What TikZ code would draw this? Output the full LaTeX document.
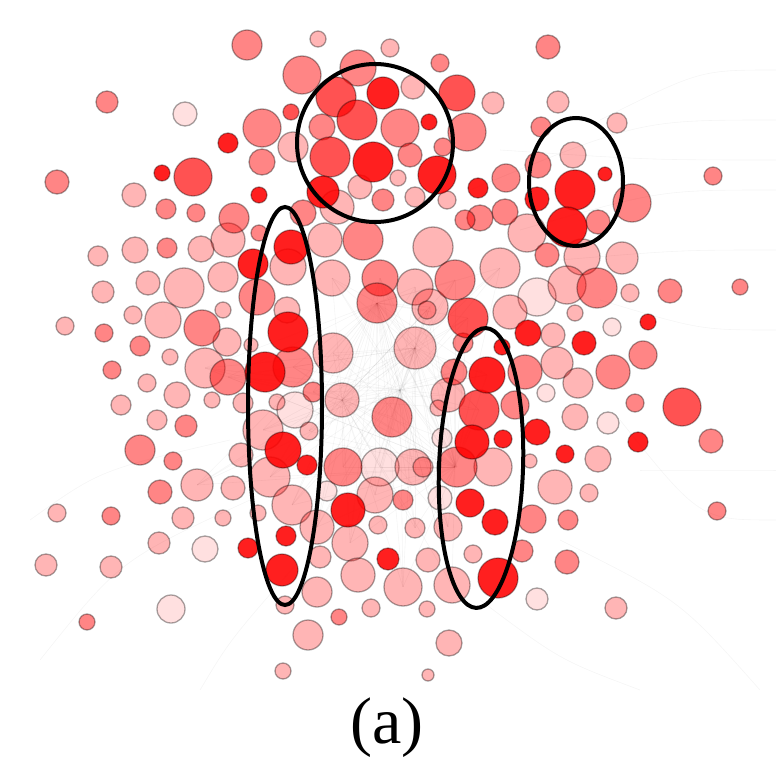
\documentclass[tikz,border=0pt]{standalone}
\usepackage{fontspec}
\setmainfont{Liberation Serif}
\begin{document}
\begin{tikzpicture}[x=1pt,y=-1pt,
  bub/.style={draw=black, draw opacity=0.35, line width=1.3pt},
  cS/.style={bub, fill=red, fill opacity=0.88},
  cMS/.style={bub, fill=red, fill opacity=0.68},
  cM/.style={bub, fill=red, fill opacity=0.48},
  cL/.style={bub, fill=red, fill opacity=0.29},
  cV/.style={bub, fill=red, fill opacity=0.12},
  edge/.style={draw=black, draw opacity=0.04, line width=0.6pt},
  ring/.style={draw=black, line width=4pt}]
\useasboundingbox[fill=white] (0,0) rectangle (776,767);
% faint network edges
\foreach \hx/\hy in {400/390, 342/400, 415/348, 377/303, 455/467} {
  \foreach \x/\y in {263/430,293/367,228/377,333/353,313/392,309/431,270/477,292/505,343/467,380/467,413/467,457/467,392/417,468/318,427/310,377/303,332/278,380/278,455/280,415/287,430/307,500/268,479/410,454/372,448/395,442/438,487/375,205/368,197/485,317/527,350/543,375/495,415/528,448/527,403/587,452/585}
    \draw[edge] (\hx,\hy) -- (\x,\y);
}
\foreach \a/\b/\c/\d in {470/190/640/120/776/110, 520/230/660/190/776/180, 560/260/680/250/776/240, 600/300/700/330/776/330, 620/420/700/520/776/560, 640/470/720/470/776/450, 600/120/700/70/776/70, 500/150/650/160/776/160}
  \draw[edge] (\a,\b) .. controls (\c,\d) .. (776,\d);
\foreach \a/\b/\c/\d/\e/\f in {250/500/120/560/40/660, 230/440/100/470/30/520, 300/560/230/640/200/690, 480/600/560/660/640/690, 560/540/680/600/760/690}
  \draw[edge] (\a,\b) .. controls (\c,\d) .. (\e,\f);
% very light
\foreach \x/\y/\r in {185/114/12, 295/410/18, 327/491/10, 205/549/13, 171/609/14, 380/467/19, 537/297/19, 612/327/9, 546/393/9, 608/423/11, 442/438/10, 440/498/12, 537/599/11}
  \path[cV] (\x,\y) circle (\r);
% light
\foreach \x/\y/\r in {318/39/8, 390/48/9, 413/87/12, 493/103/11, 558/102/11, 617/123/10, 293/147/15, 360/187/12, 337/207/17, 134/195/12, 228/240/17, 325/240/17, 98/256/10, 135/250/13, 201/249/13, 288/267/18, 332/278/18, 223/277/15, 148/283/12, 184/288/20, 103/292/11, 223/310/8, 133/315/9, 163/320/18, 287/310/13, 65/326/9, 227/342/14, 398/178/8, 415/197/10, 447/200/9, 573/155/13, 527/233/19, 433/247/20, 582/257/18, 622/258/16, 500/268/20, 415/287/18, 430/307/18, 567/285/19, 630/293/9, 510/312/17, 575/313/8, 553/335/12, 415/348/21, 427/310/9, 333/353/20, 170/357/8, 205/368/20, 147/383/9, 177/395/13, 212/400/8, 243/403/10, 277/402/8, 342/400/17, 121/405/10, 157/420/10, 263/430/20, 309/431/9, 241/455/12, 270/477/20, 197/485/16, 233/488/12, 375/495/18, 292/505/20, 258/513/8, 57/513/9, 183/518/11, 223/518/8, 378/525/9, 317/527/17, 159/543/11, 350/543/18, 320/557/11, 46/565/11, 111/567/11, 358/575/17, 403/587/19, 317/592/15, 285/605/9, 371/608/9, 308/635/15, 283/671/8, 557/363/16, 578/383/15, 448/395/17, 575/417/13, 598/459/13, 413/467/18, 493/467/19, 530/461/7, 555/487/17, 589/493/9, 415/528/10, 448/527/14, 428/560/12, 473/554/9, 452/585/18, 427/609/8, 616/608/11, 449/643/13, 428/675/6, 251/345/7, 423/467/10, 438/408/8}
  \path[cL] (\x,\y) circle (\r);
% medium
\foreach \x/\y/\r in {247/45/15, 302/75/19, 358/68/18, 107/102/11, 262/128/19, 322/127/13, 400/128/19, 262/162/13, 57/182/12, 383/200/11, 166/209/10, 196/213/9, 234/218/15, 303/213/13, 363/240/20, 167/248/10, 259/233/8, 257/297/18, 380/278/18, 377/303/20, 202/328/18, 104/333/9, 140/346/10, 440/63/9, 548/47/12, 467/132/19, 541/127/10, 538/165/13, 410/155/12, 443/147/9, 506/178/14, 713/176/9, 632/203/19, 598/222/12, 505/212/13, 480/218/13, 465/220/10, 547/255/12, 455/280/20, 597/288/20, 670/291/12, 740/287/8, 643/355/14, 613/372/17, 525/372/17, 454/372/13, 228/377/18, 293/367/20, 112/370/9, 313/392/10, 186/426/11, 140/450/15, 173/461/9, 343/467/19, 160/492/12, 111/516/9, 392/417/20, 515/405/14, 635/403/9, 711/441/12, 457/467/20, 403/500/10, 532/519/14, 568/520/10, 717/511/9, 522/551/11, 567/562/12, 339/617/8, 87/622/8, 463/343/10}
  \path[cM] (\x,\y) circle (\r);
% medium-strong
\foreach \x/\y/\r in {336/97/20, 357/120/20, 330/157/20, 193/177/19, 457/93/18, 468/318/20, 682/407/19, 479/410/20, 291/112/8}
  \path[cMS] (\x,\y) circle (\r);
% strong
\foreach \x/\y/\r in {383/93/16, 373/162/20, 228/143/10, 162/173/8, 259/195/8, 323/192/16, 291/247/17, 253/264/15, 288/332/20, 429/122/8, 437/175/19, 478/188/10, 575/190/20, 537/199/12, 567/227/20, 605/174/7, 648/322/8, 528/333/13, 584/343/12, 502/347/8, 265/372/20, 283/450/18, 307/465/10, 348/510/17, 286/536/10, 248/548/10, 388/559/11, 282/570/16, 487/375/18, 537/432/13, 472/442/17, 503/439/9, 565/454/9, 638/442/10, 470/503/14, 495/522/13, 498/578/20}
  \path[cS] (\x,\y) circle (\r);
% highlight rings
\draw[ring] (375,143) ellipse [x radius=78, y radius=79];
\draw[ring] (576,182) ellipse [x radius=47, y radius=64];
\draw[ring] (285,406) ellipse [x radius=37, y radius=199];
\draw[ring, rotate around={-2:(481,468)}] (481,468) ellipse [x radius=42, y radius=140];
% label
\node (lab) [anchor=base, inner sep=0pt, font=\fontsize{66}{70}\selectfont] at (387,743) {(a)};
\end{tikzpicture}
\end{document}
